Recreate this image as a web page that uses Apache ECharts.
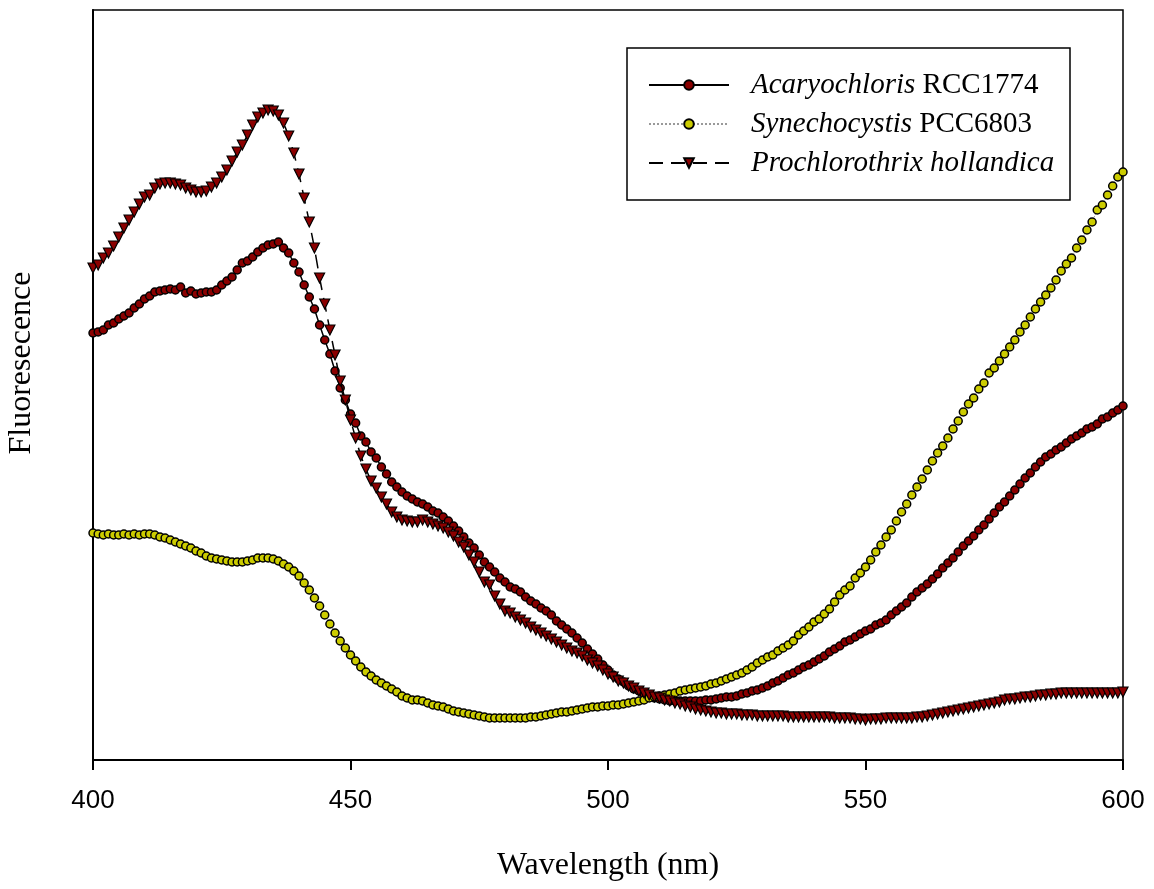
<!DOCTYPE html>
<html>
<head>
<meta charset="utf-8">
<script src="https://cdn.jsdelivr.net/npm/echarts@6/dist/echarts.min.js"></script>
<style>
  html, body { margin: 0; padding: 0; background: #fff; }
  #chart { width: 1154px; height: 889px; }
</style>
</head>
<body>
<div id="chart"></div>
<script>
// Excitation spectra, 400-600 nm in 1 nm steps (arbitrary fluorescence units)
const wlStart = 400;
const wlEnd = 600;
const xTicks = [400, 450, 500, 550, 600];

const seriesNames = ['Acaryochloris RCC1774', 'Synechocystis PCC6803', 'Prochlorothrix hollandica'];

const acaryochloris = [
  427,428,430,435,437,441,444,447,452,456,
  461,464,468,469,470,471,470,473,467,469,
  466,467,468,468,470,475,479,483,490,497,
  499,503,508,512,515,516,518,512,507,497,
  488,475,463,451,435,420,406,389,372,360,
  346,337,324,318,308,302,293,286,278,273,
  268,264,261,258,256,253,249,247,243,239,
  234,229,223,217,212,205,198,193,188,182,
  178,173,171,168,163,159,156,152,149,145,
  139,135,131,127,122,117,111,106,101,95,
  90,85,81,78,74,71,69,66,64,62,
  61,60,59,59,59,59,59,59,59,60,
  60,61,62,63,63,64,66,67,69,70,
  72,74,77,79,82,85,87,90,93,95,
  98,101,104,108,111,114,118,120,123,126,
  129,131,135,137,140,145,149,153,157,163,
  168,172,176,181,186,192,197,202,208,214,
  219,224,230,235,241,247,253,258,264,270,
  276,282,287,293,298,303,306,310,313,317,
  321,324,327,331,333,336,341,343,347,350,
  354
];

const synechocystis = [
  227,226,225,226,225,225,226,225,226,225,
  226,226,225,223,222,220,218,216,214,212,
  209,207,204,202,201,200,199,198,198,198,
  199,200,202,202,202,201,199,196,193,189,
  184,177,170,162,154,145,136,127,119,112,
  105,99,93,88,84,80,77,74,71,68,
  64,62,60,60,59,57,55,54,53,51,
  49,48,47,46,45,44,43,42,42,42,
  42,42,42,42,42,43,43,44,45,46,
  47,48,48,49,50,51,52,53,53,54,
  54,55,55,56,57,58,59,60,62,63,
  64,65,66,67,69,70,71,72,73,74,
  76,77,79,81,83,85,87,90,93,97,
  100,103,105,109,112,115,119,125,129,133,
  138,141,146,151,158,165,170,174,182,187,
  193,200,208,215,223,230,239,248,256,265,
  273,281,290,299,307,314,322,331,339,348,
  356,362,371,377,387,392,399,406,413,420,
  428,435,443,451,458,465,472,480,489,496,
  502,512,520,530,538,550,555,565,574,583,
  588
];

const prochlorothrix = [
  492,495,502,507,514,523,532,540,548,556,
  563,565,572,576,577,577,576,575,572,570,
  568,568,569,573,577,583,590,599,608,615,
  625,635,643,647,650,649,645,637,624,607,
  586,562,538,512,482,456,430,405,379,360,
  340,322,304,291,279,272,263,256,248,243,
  240,239,238,238,240,238,236,234,232,228,
  224,218,213,205,198,188,178,175,164,156,
  149,147,143,140,137,133,130,127,124,121,
  118,115,112,109,107,104,100,97,94,90,
  86,83,79,77,74,72,69,67,65,63,
  62,60,59,57,56,54,53,51,50,49,
  48,47,47,46,46,46,45,45,45,44,
  44,44,44,44,44,43,43,43,43,43,
  43,43,43,43,42,42,42,42,41,41,
  40,41,41,41,42,42,42,42,42,42,
  43,43,44,45,46,47,48,49,50,51,
  52,53,54,55,56,57,58,60,61,61,
  62,63,63,64,65,65,66,66,67,67,
  67,67,67,67,67,67,67,67,67,67,
  68
];

function toPairs(values) {
  return values.map((v, i) => [wlStart + i, v]);
}

const serif = 'Liberation Serif';
const sans = 'Liberation Sans';

const chart = echarts.init(document.getElementById('chart'), null, { renderer: 'canvas' });

chart.setOption({
  animation: false,
  backgroundColor: '#ffffff',
  grid: {
    left: 93, right: 31, top: 10, bottom: 129,
    show: true, borderColor: '#000', borderWidth: 1.5,
    containLabel: false
  },
  xAxis: {
    type: 'value',
    min: wlStart, max: wlEnd, interval: 50,
    name: 'Wavelength (nm)',
    nameLocation: 'middle',
    nameGap: 90,
    nameTextStyle: { fontFamily: serif, fontSize: 32, color: '#000' },
    axisLine: { show: true, onZero: false, lineStyle: { color: '#000', width: 2 } },
    axisTick: { show: true, inside: false, length: 10, lineStyle: { color: '#000', width: 2 } },
    axisLabel: {
      show: true, margin: 28, fontFamily: sans, fontSize: 26, color: '#000',
      customValues: xTicks,
      formatter: v => String(v)
    },
    splitLine: { show: false }
  },
  yAxis: {
    type: 'value',
    min: 0, max: 750,
    axisLine: { show: true, onZero: false, lineStyle: { color: '#000', width: 2 } },
    axisTick: { show: false },
    axisLabel: { show: false },
    splitLine: { show: false }
  },
  legend: {
    orient: 'vertical',
    left: 648,
    top: 70,
    itemWidth: 80,
    itemHeight: 12,
    itemGap: 9,
    padding: 0,
    selectedMode: false,
    data: seriesNames,
    formatter: name => {
      const parts = name.split(' ');
      if (name.startsWith('Prochlorothrix')) return '{i|' + name + '}';
      return '{i|' + parts[0] + '} {n|' + parts[1] + '}';
    },
    textStyle: {
      fontFamily: serif, fontSize: 29, color: '#000', lineHeight: 30,
      padding: [0, 0, 0, 17],
      rich: {
        i: { fontFamily: serif, fontSize: 29, fontStyle: 'italic', color: '#000', lineHeight: 30 },
        n: { fontFamily: serif, fontSize: 29, color: '#000', lineHeight: 30 }
      }
    }
  },
  graphic: [
    {
      type: 'rect',
      shape: { x: 627, y: 48, width: 443, height: 152 },
      style: { fill: '#fff', stroke: '#000', lineWidth: 1.5 },
      z: -1
    },
    {
      // y-axis title
      type: 'text',
      x: 22,
      y: 363,
      rotation: Math.PI / 2,
      style: {
        text: 'Fluoresecence',
        fontFamily: serif,
        fontSize: 32,
        fill: '#000',
        align: 'center',
        verticalAlign: 'middle'
      }
    }
  ],
  series: [
    {
      name: seriesNames[0],
      type: 'line',
      data: toPairs(acaryochloris),
      showSymbol: true,
      showAllSymbol: true,
      symbol: 'circle',
      symbolSize: 8,
      itemStyle: { color: '#8b0000', borderColor: '#000', borderWidth: 1.5 },
      lineStyle: { color: '#000', width: 1.5, type: 'solid' },
      z: 2
    },
    {
      name: seriesNames[1],
      type: 'line',
      data: toPairs(synechocystis),
      showSymbol: true,
      showAllSymbol: true,
      symbol: 'circle',
      symbolSize: 8,
      itemStyle: { color: '#cccc00', borderColor: '#000', borderWidth: 1.5 },
      lineStyle: { color: '#999', width: 1, type: 'dotted' },
      z: 3
    },
    {
      name: seriesNames[2],
      type: 'line',
      data: toPairs(prochlorothrix),
      showSymbol: true,
      showAllSymbol: true,
      symbol: 'triangle',
      symbolRotate: 180,
      symbolSize: 10,
      itemStyle: { color: '#8b0000', borderColor: '#000', borderWidth: 1.2 },
      lineStyle: { color: '#000', width: 1.5, type: [14, 8] },
      z: 4
    }
  ]
});
</script>
</body>
</html>
